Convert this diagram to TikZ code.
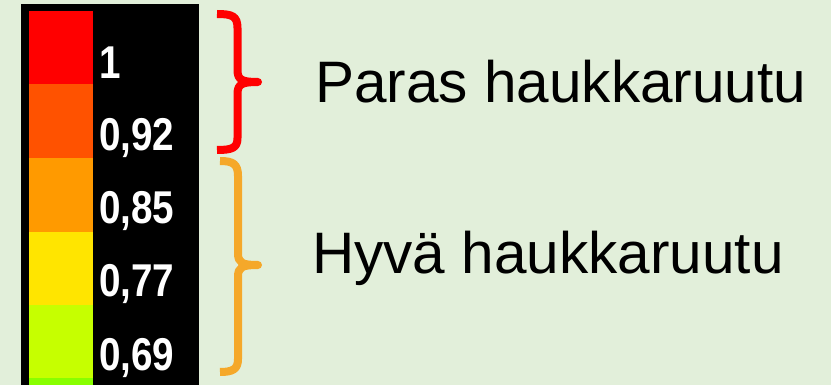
\documentclass[tikz,border=0pt]{standalone}
\usepackage{fontspec}
\setmainfont{Liberation Sans}
\definecolor{bg}{HTML}{E2EFDA}
\definecolor{c1}{HTML}{FF0000}
\definecolor{c2}{HTML}{FF5200}
\definecolor{c3}{HTML}{FF9A00}
\definecolor{c4}{HTML}{FFE500}
\definecolor{c5}{HTML}{C6FF00}
\definecolor{c6}{HTML}{88FF00}
\definecolor{bred}{HTML}{FF0000}
\definecolor{borange}{HTML}{F5A82A}
\begin{document}
\begin{tikzpicture}[x=1pt,y=-1pt,
  val/.style={anchor=base west,inner sep=0pt,text=white,font=\fontsize{46}{46}\selectfont\bfseries,xscale=0.84},
  lbl/.style={anchor=base west,inner sep=0pt,text=black,font=\fontsize{58.5}{58.5}\selectfont},
  brace/.style={line width=8pt,line cap=butt,line join=round}]
\fill[bg] (0,0) rectangle (831,385);
\useasboundingbox (0,0) rectangle (831,385);
\fill[black] (21,4) rectangle (199,385);
\fill[c1] (29,11) rectangle (93,84);
\fill[c2] (29,84) rectangle (93,158);
\fill[c3] (29,158) rectangle (93,232);
\fill[c4] (29,232) rectangle (93,305);
\fill[c5] (29,305) rectangle (93,378);
\fill[c6] (29,378) rectangle (93,385);
\node[val] (v1) at (99,79) {1};
\node[val] (v2) at (99,151) {0,92};
\node[val] (v3) at (99,224) {0,85};
\node[val] (v4) at (99,297) {0,77};
\node[val] (v5) at (99,370) {0,69};
% red brace
\draw[brace,bred] (217,14) .. controls (232,14) and (237.5,16) .. (237.5,28)
  -- (237.5,70) .. controls (237.5,80) and (242,82) .. (258,82)
  .. controls (242,82) and (237.5,84) .. (237.5,94)
  -- (237.5,138) .. controls (237.5,148) and (232,150) .. (217,150);
% orange brace
\draw[brace,borange] (220,161) .. controls (233,161) and (238,164) .. (238,176)
  -- (238,253) .. controls (238,263) and (242,265) .. (258,265)
  .. controls (242,265) and (238,267) .. (238,277)
  -- (238,359) .. controls (238,369) and (233,372) .. (220,372);
\node[lbl] (t1) at (315,103) {Paras haukkaruutu};
\node[lbl] (t2) at (312,273) {Hyvä haukkaruutu};
\end{tikzpicture}
\end{document}
